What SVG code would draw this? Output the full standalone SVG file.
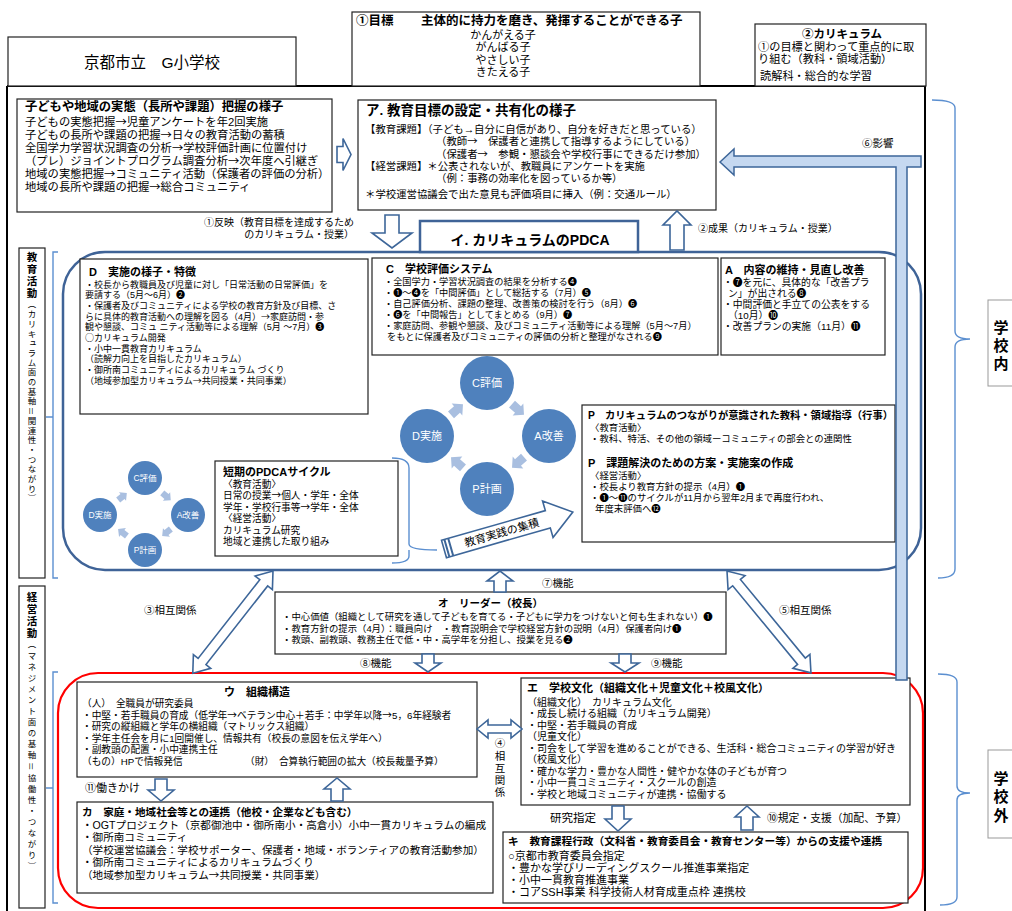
<svg xmlns="http://www.w3.org/2000/svg" width="1012" height="911" viewBox="0 0 1012 911">
<style>
text{font-family:"Liberation Sans","Noto Sans CJK JP","Noto Sans CJK SC",sans-serif;fill:#000}
.j{font-family:"Noto Sans CJK JP","Noto Sans CJK SC",sans-serif}
.b{font-weight:700}
.box{fill:#fff;stroke:#222;stroke-width:1.2}
.ha{fill:#fff;stroke:#3d6699;stroke-width:1.6}
.br{fill:none;stroke:#5b8fd0;stroke-width:1.4}
.cir{fill:#4f81bd}
.ct{fill:#fff;text-anchor:middle}
.ca{fill:#a9bfe0}
.mid{text-anchor:middle}
.vt{writing-mode:vertical-rl;font-family:"Noto Sans CJK JP","Noto Sans CJK SC",sans-serif}
</style>
<defs>
<path id="ca" d="M-8,-4.5H0V-8L8,0L0,8V4.5H-8Z"/>
</defs>
<rect width="1012" height="911" fill="#fff"/>

<g id="frame">
<path d="M7,86V911M7,86H925V911" fill="none" stroke="#000" stroke-width="2"/>
</g>

<g id="school"><rect x="8" y="37" width="288" height="49" class="box"/>
<text x="152" y="68" font-size="15.5" class="mid">京都市立　G小学校</text></g>

<g id="goal"><rect x="352" y="12" width="348" height="74" class="box"/>
<text x="356" y="25" font-size="12.5" class="b">①目標</text>
<text x="421" y="25" font-size="12.5" class="b">主体的に持力を磨き、発揮することができる子</text>
<text font-size="11" class="mid"><tspan x="503" y="38.5">かんがえる子</tspan><tspan x="503" y="51">がんばる子</tspan><tspan x="503" y="63.5">やさしい子</tspan><tspan x="503" y="76">きたえる子</tspan></text></g>

<g id="curriculum"><rect x="755" y="24" width="171" height="62" class="box"/>
<text x="842" y="37.5" font-size="11.5" class="b mid">②カリキュラム</text>
<text font-size="11.2"><tspan x="758" y="50.5">①の目標と関わって重点的に取</tspan><tspan x="758" y="63">り組む（教科・領域活動）</tspan><tspan x="760" y="80">読解科・総合的な学習</tspan></text></g>

<g id="jittai"><rect x="17" y="99" width="315" height="113" class="box"/>
<text x="25" y="110.5" font-size="12.3" class="b">子どもや地域の実態（長所や課題）把握の様子</text>
<text font-size="11.3"><tspan x="25" y="126.2">子どもの実態把握<tspan class="j">→</tspan>児童アンケートを年2回実施</tspan><tspan x="25" y="139.2">子どもの長所や課題の把握<tspan class="j">→</tspan>日々の教育活動の蓄積</tspan><tspan x="25" y="152.2">全国学力学習状況調査の分析<tspan class="j">→</tspan>学校評価計画に位置付け</tspan><tspan x="25" y="165.2">（プレ）ジョイントプログラム調査分析<tspan class="j">→</tspan>次年度へ引継ぎ</tspan><tspan x="25" y="178.2">地域の実態把握<tspan class="j">→</tspan>コミュニティ活動（保護者の評価の分析）</tspan><tspan x="25" y="191.2">地域の長所や課題の把握<tspan class="j">→</tspan>総合コミュニティ</tspan></text></g>

<g id="mokuhyo"><rect x="358" y="100" width="358" height="110" class="box"/>
<text x="366" y="115" font-size="13.5" class="b">ア. 教育目標の設定・共有化の様子</text>
<text font-size="10.4"><tspan x="365" y="133">【教育課題】（子ども→自分に自信があり、自分を好きだと思っている）</tspan><tspan x="436" y="145.3">（教師<tspan class="j">→</tspan>　保護者と連携して指導するようにしている）</tspan><tspan x="436" y="157.6">（保護者<tspan class="j">→</tspan>　参観・懇談会や学校行事にできるだけ参加）</tspan><tspan x="365" y="169.9">【経営課題】＊公表されないが、教職員にアンケートを実施</tspan><tspan x="436" y="182.2">（例：事務の効率化を図っているか等）</tspan><tspan x="365" y="197.5">＊学校運営協議会で出た意見も評価項目に挿入（例：交通ルール）</tspan></text></g>

<g id="pdca-frame">
<rect x="63" y="252" width="858" height="318" rx="42" fill="none" stroke="#3f6397" stroke-width="2.5"/>
</g>

<g id="pdca-title"><rect x="420" y="221" width="218" height="31" fill="#fff" stroke="#3f6397" stroke-width="2.5"/>
<text x="530" y="245" font-size="14" class="b mid">イ. カリキュラムのPDCA</text></g>

<g id="D"><rect x="80" y="259" width="288" height="155" class="box"/>
<text x="89" y="276" font-size="11" class="b">D　実施の様子・特徴</text>
<text font-size="9"><tspan x="85" y="287.5">・校長から教職員及び児童に対し「日常活動の日常評価」を</tspan><tspan x="85" y="298.2">要請する（5月～6月）❷</tspan><tspan x="85" y="308.9">・保護者及びコミュニティによる学校の教育方針及び目標、さ</tspan><tspan x="85" y="319.6">らに具体的教育活動への理解を図る（4月）<tspan class="j">→</tspan>家庭訪問・参</tspan><tspan x="85" y="330.3">観や懇談、コミュ ニティ活動等による理解（5月 ～7月）❸</tspan><tspan x="85" y="341"><tspan class="j">○</tspan>カリキュラム開発</tspan><tspan x="85" y="351.7">・小中一貫教育カリキュラム</tspan><tspan x="85" y="362.4">（読解力向上を目指したカリキュラム）</tspan><tspan x="85" y="373.1">・御所南コミュニティによるカリキュラム づくり</tspan><tspan x="85" y="383.8">（地域参加型カリキュラム<tspan class="j">→</tspan>共同授業・共同事業）</tspan></text></g>

<g id="C"><rect x="372" y="258" width="346" height="97" class="box"/>
<text x="386" y="273" font-size="11" class="b">C　学校評価システム</text>
<text font-size="9.2"><tspan x="384" y="285">・全国学力・学習状況調査の結果を分析する❹</tspan><tspan x="384" y="296">・❶～❹を「中間評価」として総括する（7月）❺</tspan><tspan x="384" y="307">・自己評価分析、課題の整理、改善策の検討を行う（8月）❻</tspan><tspan x="384" y="318">・❻を「中間報告」としてまとめる（9月）❼</tspan><tspan x="384" y="329">・家庭訪問、参観や懇談、及びコミュニティ活動等による理解（5月～7月）</tspan><tspan x="387" y="340">をもとに保護者及びコミュニティの評価の分析と整理がなされる❾</tspan></text></g>

<g id="A"><rect x="721" y="258" width="164" height="97" class="box"/>
<text x="725" y="274" font-size="11" class="b">A　内容の維持・見直し改善</text>
<text font-size="9.8"><tspan x="723" y="285.5">・❼を元に、具体的な「改善プラ</tspan><tspan x="728" y="296.5">ン」が出される❽</tspan><tspan x="723" y="307.5">・中間評価と手立ての公表をする</tspan><tspan x="728" y="318.5">（10月）❿</tspan><tspan x="723" y="329.5">・改善プランの実施（11月）⓫</tspan></text></g>

<g id="P"><rect x="582" y="405" width="313" height="137" class="box"/>
<text x="588" y="419" font-size="10.3" class="b">P　カリキュラムのつながりが意識された教科・領域指導（行事）</text>
<text font-size="9.4"><tspan x="590" y="430.5">〈教育活動〉</tspan><tspan x="590" y="442">・教科、特活、その他の領域ーコミュニティの部会との連関性</tspan></text>
<text x="588" y="467" font-size="11" class="b">P　課題解決のための方案・実施案の作成</text>
<text font-size="9.4"><tspan x="590" y="478.5">〈経営活動〉</tspan><tspan x="590" y="489.5">・校長より教育方針の提示（4月）❶</tspan><tspan x="590" y="500.5">・❶～⓫のサイクルが11月から翌年2月まで再度行われ、</tspan><tspan x="595" y="512">年度末評価へ⓬</tspan></text></g>

<g id="short-pdca"><rect x="215" y="461" width="183" height="95" class="box"/>
<text x="223" y="475.5" font-size="11" class="b">短期のPDCAサイクル</text>
<text font-size="9.7"><tspan x="223" y="487.5">〈教育活動〉</tspan><tspan x="223" y="499">日常の授業<tspan class="j">→</tspan>個人・学年・全体</tspan><tspan x="223" y="510.5">学年・学校行事等<tspan class="j">→</tspan>学年・全体</tspan><tspan x="223" y="522">〈経営活動〉</tspan><tspan x="223" y="533.5">カリキュラム研究</tspan><tspan x="223" y="545">地域と連携した取り組み</tspan></text></g>

<g id="big-cycle">
<circle cx="487" cy="383" r="27" class="cir"/><text x="487" y="387" font-size="11" class="ct">C評価</text>
<circle cx="427" cy="436" r="27" class="cir"/><text x="427" y="440" font-size="11" class="ct">D実施</text>
<circle cx="549" cy="436" r="27" class="cir"/><text x="549" y="440" font-size="11" class="ct">A改善</text>
<circle cx="487" cy="489" r="27" class="cir"/><text x="487" y="493" font-size="11" class="ct">P計画</text>
<use href="#ca" class="ca" transform="translate(457,409.5) rotate(-41.5)"/>
<use href="#ca" class="ca" transform="translate(518,409.5) rotate(41.5)"/>
<use href="#ca" class="ca" transform="translate(518,462.5) rotate(138.5)"/>
<use href="#ca" class="ca" transform="translate(457,462.5) rotate(-138.5)"/>
</g>

<g id="small-cycle">
<circle cx="145" cy="478" r="17" class="cir"/><text x="145" y="481" font-size="8.5" class="ct">C評価</text>
<circle cx="100" cy="515" r="17" class="cir"/><text x="100" y="518" font-size="8.5" class="ct">D実施</text>
<circle cx="188" cy="515" r="17" class="cir"/><text x="188" y="518" font-size="8.5" class="ct">A改善</text>
<circle cx="145" cy="550" r="17" class="cir"/><text x="145" y="553" font-size="8.5" class="ct">P計画</text>
<use href="#ca" class="ca" transform="translate(122.5,496.5) rotate(-39.4) scale(0.7)"/>
<use href="#ca" class="ca" transform="translate(166.5,496.5) rotate(40.7) scale(0.7)"/>
<use href="#ca" class="ca" transform="translate(166.5,532.5) rotate(140.9) scale(0.7)"/>
<use href="#ca" class="ca" transform="translate(122.5,532.5) rotate(-142.1) scale(0.7)"/>
</g>

<g id="leader"><rect x="275" y="592" width="451" height="62" class="box"/>
<text x="438" y="607" font-size="10.5" class="b">オ　リーダー（校長）</text>
<text font-size="9.4"><tspan x="282" y="620">・中心価値（組織として研究を通して子どもを育てる・子どもに学力をつけないと何も生まれない）❶</tspan><tspan x="282" y="631.5">・教育方針の提示（4月）：職員向け　・教育説明会で学校経営方針の説明（4月）保護者向け❶</tspan><tspan x="282" y="643">・教頭、副教頭、教務主任で低・中・高学年を分担し、授業を見る❷</tspan></text></g>

<g id="red-frame">
<rect x="58" y="673" width="865" height="235" rx="40" fill="none" stroke="#f00" stroke-width="2.2"/>
</g>

<g id="U"><rect x="77" y="682" width="400" height="95" class="box"/>
<text x="224" y="695.5" font-size="11" class="b">ウ　組織構造</text>
<text font-size="9.7"><tspan x="82" y="707">（人）　全職員が研究委員</tspan><tspan x="82" y="718.5">・中堅・若手職員の育成（低学年<tspan class="j">→</tspan>ベテラン中心＋若手：中学年以降<tspan class="j">→</tspan>5，6年経験者</tspan><tspan x="82" y="730">・研究の縦組織と学年の横組織（マトリックス組織）</tspan><tspan x="82" y="741.5">・学年主任会を月に1回開催し、情報共有（校長の意図を伝え学年へ）</tspan><tspan x="82" y="753">・副教頭の配置・小中連携主任</tspan><tspan x="82" y="764.5">（もの）HPで情報発信</tspan><tspan x="245" y="764.5">（財）　合算執行範囲の拡大（校長裁量予算）</tspan></text></g>

<g id="KA"><rect x="77" y="802" width="416" height="91" class="box"/>
<text x="82" y="816" font-size="10.6" class="b">カ　家庭・地域社会等との連携（他校・企業なども含む）</text>
<text font-size="10.6"><tspan x="82" y="828.5">・OGTプロジェクト（京都御池中・御所南小・高倉小）小中一貫カリキュラムの編成</tspan><tspan x="82" y="841">・御所南コミュニティ</tspan><tspan x="82" y="853.5">（学校運営協議会：学校サポーター、保護者・地域・ボランティアの教育活動参加）</tspan><tspan x="82" y="866">・御所南コミュニティによるカリキュラムづくり</tspan><tspan x="82" y="878.5">（地域参加型カリキュラム<tspan class="j">→</tspan>共同授業・共同事業）</tspan></text></g>

<g id="E"><rect x="521" y="678" width="389" height="127" class="box"/>
<text x="527" y="692" font-size="11" class="b">エ　学校文化（組織文化＋児童文化＋校風文化）</text>
<text font-size="10"><tspan x="527" y="705.5">（組織文化）　カリキュラム文化</tspan><tspan x="527" y="717">・成長し続ける組織（カリキュラム開発）</tspan><tspan x="527" y="728.5">・中堅・若手職員の育成</tspan><tspan x="527" y="740">（児童文化）</tspan><tspan x="527" y="751.5">・司会をして学習を進めることができる、生活科・総合コミュニティの学習が好き</tspan><tspan x="527" y="763">（校風文化）</tspan><tspan x="527" y="774.5">・確かな学力・豊かな人間性・健やかな体の子どもが育つ</tspan><tspan x="527" y="786">・小中一貫コミュニティ・スクールの創造</tspan><tspan x="527" y="797.5">・学校と地域コミュニティが連携・協働する</tspan></text></g>

<g id="KI"><rect x="503" y="832" width="405" height="71" class="box"/>
<text x="508" y="844.5" font-size="10.7" class="b">キ　教育課程行政（文科省・教育委員会・教育センター等）からの支援や連携</text>
<text font-size="11"><tspan x="508" y="860">○京都市教育委員会指定</tspan><tspan x="508" y="872">・豊かな学びリーディングスクール推進事業指定</tspan><tspan x="508" y="884">・小中一貫教育推進事業</tspan><tspan x="508" y="896">・コアSSH事業 科学技術人材育成重点枠 連携校</tspan></text></g>

<g id="label-kyoiku"><rect x="19" y="248" width="26" height="330" fill="#fff" stroke="#222" stroke-width="1.2"/>
<text x="32" y="252" class="vt"><tspan class="b" font-size="10.5" letter-spacing="1.5">教育活動</tspan><tspan font-size="8.5" letter-spacing="1.2">（カリキュラム面の基軸＝関連性・つながり）</tspan></text></g>

<g id="label-keiei"><rect x="19" y="586" width="26" height="322" fill="#fff" stroke="#222" stroke-width="1.2"/>
<text x="32" y="592" class="vt"><tspan class="b" font-size="10.5" letter-spacing="1.5">経営活動</tspan><tspan font-size="8.5" letter-spacing="2.6">（マネジメント面の基軸＝協働性・つながり）</tspan></text></g>

<g id="label-gakkounai"><rect x="988" y="300" width="40" height="86" fill="#fff" stroke="#999" stroke-width="1"/>
<text font-size="15" class="b mid"><tspan x="1001" y="332.5">学</tspan><tspan x="1001" y="350.5">校</tspan><tspan x="1001" y="368.5">内</tspan></text></g>

<g id="label-gakkougai"><rect x="988" y="750" width="40" height="88" fill="#fff" stroke="#999" stroke-width="1"/>
<text font-size="15" class="b mid"><tspan x="1001" y="783.5">学</tspan><tspan x="1001" y="802">校</tspan><tspan x="1001" y="820.5">外</tspan></text></g>

<g id="connectors">
<path class="br" d="M58,252H53V578H58M53,417H46"/>
<path class="br" d="M58,672H53V903H58M53,788H46"/>
<path class="br" d="M932,100Q955,100 955,108V331Q955,339 970,339Q955,339 955,347V569Q955,578 938,578"/>
<path class="br" d="M938,674Q957,674 957,682V786Q957,793 970,793Q957,793 957,800V897Q957,905 940,905"/>
<path class="br" d="M392,458Q409,458 409,468V544Q409,550 437,550M409,550V556Q409,563 392,563"/>

<polygon class="ha" points="337,146.5 343,146.5 343,138.5 351,154.5 343,170.5 343,162.5 337,162.5"/>
<polygon class="ha" points="385,215 399,215 399,233 412,233 392,248 372,233 385,233"/>
<polygon class="ha" points="670,250 684,250 684,225 691,225 677,211 663,225 670,225"/>
<polygon points="720,162 734,149 734,156 921,156 921,167 907,167 907,680 896,680 896,167 734,167 734,175" fill="#c5d8f0" stroke="#3d6699" stroke-width="1.5"/>

<polygon class="ha" points="494,592 506,592 506,581 513,581 500,571 487,581 494,581"/>
<polygon class="ha" points="422,654 434,654 434,663 441,663 428,672 415,663 422,663"/>
<polygon class="ha" points="619,654 631,654 631,663 639,663 625,672 611,663 619,663"/>
<polygon class="ha" transform="translate(273,571) rotate(128.1)" points="0,0 15,-11 15,-5 115,-5 115,-11 130,0 115,11 115,5 15,5 15,11"/>
<polygon class="ha" transform="translate(727,571) rotate(50.5)" points="0,0 15,-11 15,-5 117,-5 117,-11 132,0 117,11 117,5 15,5 15,11"/>
<polygon class="ha" transform="translate(477,729)" points="0,0 11,-9 11,-4 34,-4 34,-9 45,0 34,9 34,4 11,4 11,9"/>
<polygon class="ha" points="155,779 167,779 167,790 174,790 161,801 148,790 155,790"/>
<polygon class="ha" points="331,801 343,801 343,789 350,789 337,778 324,789 331,789"/>
<polygon class="ha" points="612,806 624,806 624,819 631,819 618,831 605,819 612,819"/>
<polygon class="ha" points="741,830 753,830 753,817 759,817 747,806 735,817 741,817"/>

<g transform="translate(444,549) rotate(-16)">
<polygon class="ha" points="0,-9 108,-9 108,-19 134,0 108,19 108,9 0,9"/>
<path d="M3,-9V9M7,-9V9" stroke="#3d6699" stroke-width="2"/>
<text x="60" y="4" font-size="11" class="mid">教育実践の集積</text>
</g>

<text font-size="10"><tspan x="354" y="225.5" text-anchor="end">①反映（教育目標を達成するため</tspan><tspan x="354" y="237.5" text-anchor="end">のカリキュラム・授業）</tspan></text>
<text x="698" y="232" font-size="10">②成果（カリキュラム・授業）</text>
<text x="862" y="147" font-size="10.5">⑥影響</text>
<text x="542" y="587" font-size="10.5">⑦機能</text>
<text x="144" y="614" font-size="10.5">③相互関係</text>
<text x="779" y="614" font-size="10.5">⑤相互関係</text>
<text x="360" y="667" font-size="10.5">⑧機能</text>
<text x="651" y="667" font-size="10.5">⑨機能</text>
<text font-size="10.5" class="mid"><tspan x="500" y="747">④</tspan><tspan x="500" y="759.5">相</tspan><tspan x="500" y="771.5">互</tspan><tspan x="500" y="783.5">関</tspan><tspan x="500" y="795.5">係</tspan></text>
<text x="85" y="792" font-size="11">⑪働きかけ</text>
<text x="550" y="822" font-size="11.5">研究指定</text>
<text x="767" y="822" font-size="10.8">⑩規定・支援（加配、予算）</text>
</g>
</svg>
